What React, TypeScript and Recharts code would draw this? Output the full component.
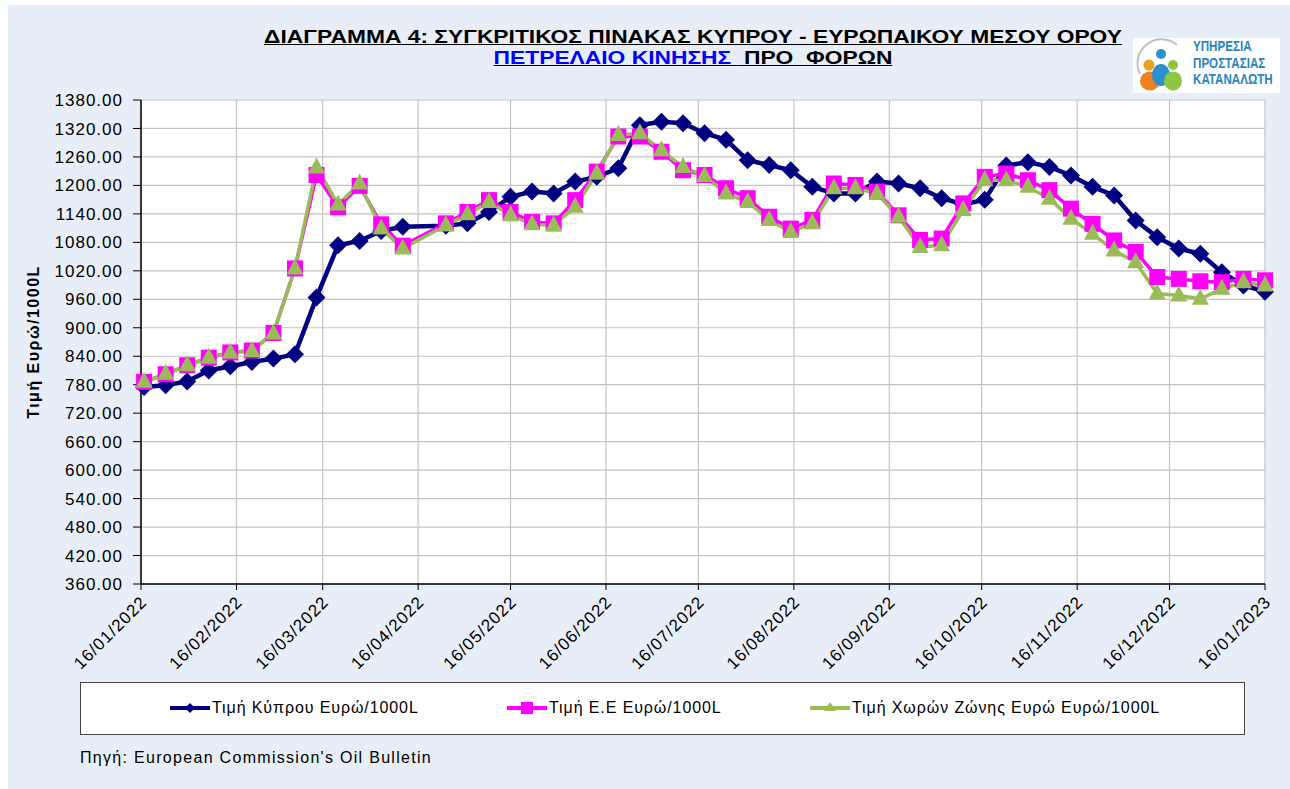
import React from "react";
import { CartesianGrid, Line, LineChart, XAxis, YAxis } from "recharts";

const dates = [
  "17/01/2022", "24/01/2022", "31/01/2022", "07/02/2022", "14/02/2022", "21/02/2022", "28/02/2022",
  "07/03/2022", "14/03/2022", "21/03/2022", "28/03/2022", "04/04/2022", "11/04/2022", "25/04/2022",
  "02/05/2022", "09/05/2022", "16/05/2022", "23/05/2022", "30/05/2022", "06/06/2022", "13/06/2022",
  "20/06/2022", "27/06/2022", "04/07/2022", "11/07/2022", "18/07/2022", "25/07/2022", "01/08/2022",
  "08/08/2022", "15/08/2022", "22/08/2022", "29/08/2022", "05/09/2022", "12/09/2022", "19/09/2022",
  "26/09/2022", "03/10/2022", "10/10/2022", "17/10/2022", "24/10/2022", "31/10/2022", "07/11/2022",
  "14/11/2022", "21/11/2022", "28/11/2022", "05/12/2022", "12/12/2022", "19/12/2022", "26/12/2022",
  "02/01/2023", "09/01/2023", "16/01/2023",
];

const cyprus = [
  775, 779, 787, 810, 819, 828, 835, 844, 964, 1074, 1083, 1104, 1113, 1115,
  1120, 1144, 1176, 1187, 1183, 1208, 1218, 1236, 1327, 1334, 1331, 1310, 1296, 1253,
  1243, 1232, 1197, 1183, 1183, 1208, 1204, 1194, 1173, 1160, 1170, 1242, 1249, 1239,
  1221, 1197, 1179, 1126, 1091, 1067, 1056, 1017, 989, 976,
];

const eu = [
  786, 802, 821, 837, 848, 852, 889, 1025, 1222, 1154, 1199, 1118, 1073, 1120,
  1144, 1169, 1144, 1123, 1120, 1169, 1229, 1303, 1303, 1271, 1232, 1222, 1194, 1173,
  1134, 1109, 1127, 1204, 1201, 1187, 1137, 1085, 1088, 1162, 1218, 1225, 1211, 1190,
  1151, 1119, 1084, 1060, 1007, 1003, 998, 996, 1003, 1000,
];

const euroZone = [
  786, 803, 821, 837, 848, 851, 888, 1025, 1238, 1160, 1204, 1109, 1067, 1116,
  1139, 1165, 1137, 1118, 1116, 1155, 1225, 1306, 1310, 1274, 1239, 1220, 1183, 1165,
  1127, 1102, 1120, 1194, 1194, 1183, 1134, 1070, 1074, 1148, 1211, 1211, 1197, 1172,
  1130, 1098, 1063, 1038, 972, 968, 961, 982, 996, 989,
];

const xTickLabels = [
  "16/01/2022", "16/02/2022", "16/03/2022", "16/04/2022", "16/05/2022", "16/06/2022", "16/07/2022",
  "16/08/2022", "16/09/2022", "16/10/2022", "16/11/2022", "16/12/2022", "16/01/2023",
];

const yTicks = [360, 420, 480, 540, 600, 660, 720, 780, 840, 900, 960, 1020, 1080, 1140, 1200, 1260, 1320, 1380];

const seriesNames = ["Τιμή Κύπρου Ευρώ/1000L", "Τιμή Ε.Ε Ευρώ/1000L", "Τιμή Χωρών Ζώνης Ευρώ Ευρώ/1000L"];

const NAVY = "#000080";
const MAGENTA = "#FF00FF";
const OLIVE = "#9BBB59";
const FONT = "'Liberation Sans', Arial, sans-serif";

const toTime = (s: string) => {
  const [d, m, y] = s.split("/").map(Number);
  return Date.UTC(y, m - 1, d);
};

const xTicks = xTickLabels.map(toTime);
const labelByTime = new Map(xTickLabels.map((l) => [toTime(l), l]));

const data = dates.map((d, i) => ({ t: toTime(d), cy: cyprus[i], eu: eu[i], ez: euroZone[i] }));

const Diamond = (props: any) => {
  const { cx, cy, index } = props;
  if (cx == null || cy == null) return <g key={`cd-${index}`} />;
  const r = 9;
  return <path key={`cd-${index}`} d={`M${cx},${cy - r}L${cx + r},${cy}L${cx},${cy + r}L${cx - r},${cy}Z`} fill={NAVY} />;
};

const Square = (props: any) => {
  const { cx, cy, index } = props;
  if (cx == null || cy == null) return <g key={`eu-${index}`} />;
  const r = 8;
  return <rect key={`eu-${index}`} x={cx - r} y={cy - r} width={r * 2} height={r * 2} fill={MAGENTA} />;
};

const Triangle = (props: any) => {
  const { cx, cy, index } = props;
  if (cx == null || cy == null) return <g key={`ez-${index}`} />;
  return (
    <path key={`ez-${index}`} d={`M${cx},${cy - 10}L${cx + 8.5},${cy + 6}L${cx - 8.5},${cy + 6}Z`} fill={OLIVE} />
  );
};

const XTick = ({ x, y, payload }: any) => {
  const ax = x + 7;
  const ay = y + 13;
  return (
    <text x={ax} y={ay} transform={`rotate(-45, ${ax}, ${ay})`} textAnchor="end" fontSize={17} letterSpacing={1} fill="#000" fontFamily={FONT}>
      {labelByTime.get(payload.value) ?? ""}
    </text>
  );
};

const LegendIcon = ({ kind, color }: { kind: string; color: string }) => (
  <svg width={40} height={12} style={{ display: "block" }}>
    <line x1={0} y1={6} x2={40} y2={6} stroke={color} strokeWidth={4} />
    {kind === "diamond" && <path d="M20,1L25,6L20,11L15,6Z" fill={color} />}
    {kind === "square" && <rect x={14} y={0} width={12} height={12} fill={color} />}
    {kind === "triangle" && <path d="M20,0L26,9L14,9Z" fill={color} />}
  </svg>
);

const legendItems = [
  { name: seriesNames[0], color: NAVY, kind: "diamond", left: 170 },
  { name: seriesNames[1], color: MAGENTA, kind: "square", left: 507 },
  { name: seriesNames[2], color: OLIVE, kind: "triangle", left: 810 },
];

const titleStyle: React.CSSProperties = {
  position: "absolute",
  left: 0,
  width: 1386,
  textAlign: "center",
  fontSize: 19,
  fontWeight: "bold",
  textDecoration: "underline",
  whiteSpace: "pre",
  transform: "scaleX(1.2)",
  transformOrigin: "693px 0",
};

export default function App() {
  return (
    <div style={{ position: "absolute", left: 0, top: 0, width: 1290, height: 789, background: "#fff", fontFamily: FONT, overflow: "hidden" }}>
      <div style={{ position: "absolute", left: 8, top: 5, right: 0, bottom: 0, background: "#E8EEF7" }} />

      <div style={{ ...titleStyle, top: 26, color: "#000" }}>
        ΔΙΑΓΡΑΜΜΑ 4: ΣΥΓΚΡΙΤΙΚΟΣ ΠΙΝΑΚΑΣ ΚΥΠΡΟΥ - ΕΥΡΩΠΑΙΚΟΥ ΜΕΣΟΥ ΟΡΟΥ
      </div>
      <div style={{ ...titleStyle, top: 47 }}>
        <span style={{ color: "#0000FF" }}>ΠΕΤΡΕΛΑΙΟ ΚΙΝΗΣΗΣ </span>
        <span style={{ color: "#000" }}> ΠΡΟ  ΦΟΡΩΝ</span>
      </div>

      <div style={{ position: "absolute", left: 1133, top: 38, width: 147, height: 55, background: "#fff" }}>
        <svg width={60} height={55} style={{ position: "absolute", left: 0, top: 0 }}>
          <path d="M7,36 A24,24 0 0 1 44,7" fill="none" stroke="#C0C0C0" strokeWidth={2} />
          <circle cx={28} cy={16} r={5} fill="#2C8FD0" />
          <circle cx={16} cy={27} r={5.5} fill="#F0A020" />
          <circle cx={40} cy={27} r={5} fill="#8DC63F" />
          <ellipse cx={17} cy={43} rx={10} ry={9.5} fill="#F08020" />
          <ellipse cx={28} cy={37} rx={9} ry={11} fill="#2C8FD0" />
          <ellipse cx={40} cy={43} rx={9} ry={9.5} fill="#8DC63F" />
        </svg>
        <div style={{ position: "absolute", left: 60, top: 0, fontSize: 14.5, lineHeight: "16.5px", color: "#2A84C0", fontWeight: "bold", transform: "scaleX(0.8)", transformOrigin: "0 0" }}>
          ΥΠΗΡΕΣΙΑ<br />ΠΡΟΣΤΑΣΙΑΣ<br />ΚΑΤΑΝΑΛΩΤΗ
        </div>
      </div>

      <div style={{ position: "absolute", left: 0, top: 0 }}>
        <LineChart width={1290} height={680} data={data} margin={{ top: 100, right: 25, left: 41, bottom: 0 }}>
          <CartesianGrid stroke="#C4C4C4" strokeWidth={1.2} fill="#FFFFFF" />
          <XAxis
            dataKey="t"
            type="number"
            domain={[xTicks[0], xTicks[xTicks.length - 1]]}
            ticks={xTicks}
            interval={0}
            height={96}
            tick={<XTick />}
            tickSize={6}
            tickMargin={0}
            axisLine={{ stroke: "#000", strokeWidth: 1.5 }}
            tickLine={{ stroke: "#000" }}
          />
          <YAxis
            type="number"
            domain={[360, 1380]}
            ticks={yTicks}
            interval={0}
            width={100}
            tickSize={8}
            tickMargin={10}
            tickFormatter={(v: number) => v.toFixed(2)}
            tick={{ fontSize: 17, fill: "#000", fontFamily: FONT, letterSpacing: 1 }}
            axisLine={{ stroke: "#000", strokeWidth: 1.5 }}
            tickLine={{ stroke: "#000" }}
            label={{ value: "Τιμή Ευρώ/1000L", angle: -90, position: "insideLeft", offset: -8, style: { fontSize: 16, letterSpacing: 1.5, fontWeight: "bold", fill: "#000", fontFamily: FONT, textAnchor: "middle" } }}
          />
          <Line dataKey="cy" name={seriesNames[0]} stroke={NAVY} strokeWidth={4.5} dot={Diamond} activeDot={false} isAnimationActive={false} />
          <Line dataKey="eu" name={seriesNames[1]} stroke={MAGENTA} strokeWidth={3.5} dot={Square} activeDot={false} isAnimationActive={false} />
          <Line dataKey="ez" name={seriesNames[2]} stroke={OLIVE} strokeWidth={3.5} dot={Triangle} activeDot={false} isAnimationActive={false} />
        </LineChart>
      </div>

      <div style={{ position: "absolute", left: 80, top: 682, width: 1163, height: 51, background: "#fff", border: "1px solid #444" }} />
      {legendItems.map((it) => (
        <div key={it.name} style={{ position: "absolute", left: it.left, top: 699, display: "flex", alignItems: "center", fontSize: 16, letterSpacing: 0.9, color: "#000", whiteSpace: "nowrap" }}>
          <LegendIcon kind={it.kind} color={it.color} />
          <span style={{ marginLeft: 2 }}>{it.name}</span>
        </div>
      ))}

      <div style={{ position: "absolute", left: 80, top: 749, fontSize: 16, letterSpacing: 1.3, color: "#000", whiteSpace: "nowrap" }}>
        Πηγή: European Commission's Oil Bulletin
      </div>
    </div>
  );
}
